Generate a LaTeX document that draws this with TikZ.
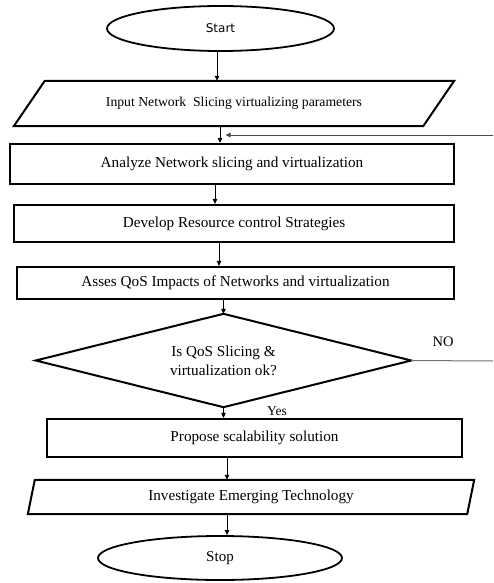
\documentclass[tikz,border=0pt]{standalone}
\usepackage{fontspec}
\setmainfont{Liberation Serif}
\newfontfamily\startfont{DejaVu Sans}
\usetikzlibrary{shapes.geometric,arrows.meta}
\tikzset{
  procbox/.style={draw, line width=2.2pt, rectangle, inner sep=0pt, font=\fontsize{15.2}{18}\selectfont},
  ghost/.style={rectangle, inner sep=0pt, font=\fontsize{15.2}{18}\selectfont},
  term/.style={draw, line width=1.8pt, ellipse, inner sep=0pt},
  arr/.style={line width=1pt, -{Triangle[length=5pt,width=4.5pt]}},
  outline/.style={line width=2pt, line join=miter},
  grayline/.style={line width=1pt, draw=black!55},
  lbl/.style={font=\fontsize{14.5}{17}\selectfont, inner sep=0pt}
}
\begin{document}
\begin{tikzpicture}[x=1pt,y=-1pt]
\useasboundingbox[fill=white] (0,0) rectangle (493,583);

% Start
\node[term, minimum width=227pt, minimum height=45pt] (start) at (220.5,28.5) {\startfont\fontsize{12}{14}\selectfont Start};

% Input parallelogram
\node[ghost, minimum width=409pt, minimum height=45pt, font=\fontsize{13.7}{16}\selectfont] (inp) at (234,103.5) {Input Network\ \ Slicing virtualizing parameters};
\draw[outline] ([xshift=15.5pt]inp.north west) -- ([xshift=15.5pt]inp.north east) -- ([xshift=-15.5pt]inp.south east) -- ([xshift=-15.5pt]inp.south west) -- cycle;

% Boxes
\node[procbox, minimum width=444pt, minimum height=40pt] (ana) at (232,164) {Analyze Network slicing and virtualization};
\node[procbox, minimum width=440pt, minimum height=37pt] (dev) at (234,223.5) {Develop Resource control Strategies};
\node[procbox, minimum width=437pt, minimum height=32pt] (ass) at (235.5,283) {Asses QoS Impacts of Networks and virtualization};

% Decision diamond
\node[ghost, minimum width=375pt, minimum height=93pt, align=center] (dec) at (223.5,360.5) {Is QoS Slicing \&\\[1pt]virtualization ok?};
\draw[outline] (dec.north) -- (dec.east) -- (dec.south) -- (dec.west) -- cycle;

\node[procbox, minimum width=415pt, minimum height=38pt] (prop) at (254.5,438) {Propose scalability solution};

% Investigate parallelogram
\node[ghost, minimum width=439pt, minimum height=34pt] (inv) at (251,497) {Investigate Emerging Technology};
\draw[outline] ([xshift=3.5pt]inv.north west) -- ([xshift=3.5pt]inv.north east) -- ([xshift=-3.5pt]inv.south east) -- ([xshift=-3.5pt]inv.south west) -- cycle;

% Stop
\node[term, minimum width=244pt, minimum height=44pt, font=\fontsize{15}{18}\selectfont] (stop) at (220,558) {Stop};

% Connectors
\draw[arr] ([xshift=-3.5pt]start.south) -- ([xshift=-3.5pt]start.south |- inp.north);
\draw[arr] ([xshift=-14pt]inp.south) -- ([xshift=-14pt]inp.south |- ana.north);
\draw[arr] ([xshift=-17pt]ana.south) -- ([xshift=-17pt]ana.south |- dev.north);
\draw[arr] ([xshift=-15pt]dev.south) -- ([xshift=-15pt]dev.south |- ass.north);
\draw[arr] (dec.north |- ass.south) -- (dec.north);
\draw[arr] (dec.south) -- (dec.south |- prop.north);
\draw[arr] ([xshift=-27.5pt]prop.south) -- ([xshift=-27.5pt]prop.south |- inv.north);
\draw[arr] ([xshift=-24pt]inv.south) -- ([xshift=-24pt]inv.south |- stop.north);

% NO branch and feedback
\coordinate (noend) at (493,361);
\draw[grayline] (dec.east) -- (noend);
\coordinate (fbstart) at (493,135);
\coordinate (fbend) at (225.5,135);
\draw[grayline, -{Triangle[length=5pt,width=4.5pt]}, draw=black!70, fill=black] (fbstart) -- (fbend);

\node[lbl] (no) at (443,342) {NO};
\node[lbl, font=\fontsize{13.5}{16}\selectfont] (yes) at (277,411) {Yes};
\end{tikzpicture}
\end{document}
